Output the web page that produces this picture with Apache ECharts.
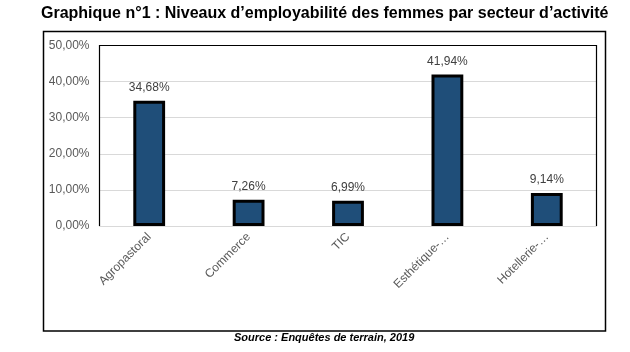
<!DOCTYPE html>
<html>
<head>
<meta charset="utf-8">
<script src="https://cdn.jsdelivr.net/npm/echarts@6/dist/echarts.min.js"></script>
<style>
  html, body { margin: 0; padding: 0; background: #fff; }
  #chart { width: 630px; height: 352px; }
</style>
</head>
<body>
<div id="chart"></div>
<script>
// données
const secteurs = ["Agropastoral", "Commerce", "TIC", "Esthétique-…", "Hotellerie-…"];
const taux = [34.68, 7.26, 6.99, 41.94, 9.14];

const titre = "Graphique n°1 : Niveaux d’employabilité des femmes par secteur d’activité";
const source = "Source : Enquêtes de terrain, 2019";

const pct = (v) => v.toFixed(2).replace(".", ",") + "%";

const chart = echarts.init(document.getElementById("chart"));

const option = {
  animation: false,
  textStyle: { fontFamily: "Liberation Sans, Arial, sans-serif" },
  title: {
    text: titre,
    left: 41,
    top: 6,
    padding: 0,
    textStyle: { fontSize: 16, fontWeight: "bold", color: "#000", fontFamily: "Liberation Sans, Arial, sans-serif" },
  },
  graphic: [
    // cadre extérieur
    {
      type: "rect",
      shape: { x: 43.5, y: 31.5, width: 562, height: 299.5 },
      style: { fill: "none", stroke: "#000", lineWidth: 1.5 },
      z: -1,
    },
    // cadre de la zone de tracé (gauche, haut, droite)
    {
      type: "polyline",
      shape: { points: [[99.5, 226], [99.5, 45.5], [596.5, 45.5], [596.5, 226]] },
      style: { fill: "none", stroke: "#000", lineWidth: 1.2 },
      z: 10,
    },
    {
      type: "text",
      left: 234,
      top: 332,
      style: {
        text: source,
        fontSize: 11,
        fontStyle: "italic",
        fontWeight: "bold",
        fill: "#000",
        fontFamily: "Liberation Sans, Arial, sans-serif",
      },
    },
  ],
  grid: { left: 99.5, right: 33.5, top: 45.5, bottom: 126 },
  xAxis: {
    type: "category",
    data: secteurs,
    axisLine: { lineStyle: { color: "#d9d9d9", width: 1 } },
    axisTick: { show: false },
    axisLabel: {
      rotate: 45,
      color: "#595959",
      fontSize: 12,
      margin: 9,
      interval: 0,
    },
  },
  yAxis: {
    type: "value",
    min: 0,
    max: 50,
    interval: 10,
    axisLine: { show: false },
    axisTick: { show: false },
    splitLine: { lineStyle: { color: "#d9d9d9", width: 1 } },
    axisLabel: {
      color: "#595959",
      fontSize: 12,
      margin: 10,
      formatter: (v) => pct(v),
    },
  },
  series: [
    {
      type: "bar",
      data: taux,
      barWidth: "32%",
      itemStyle: { color: "#1f4e79", borderColor: "#000", borderWidth: 3 },
      label: {
        show: true,
        position: "top",
        distance: 7,
        color: "#404040",
        fontSize: 12,
        formatter: (p) => pct(p.value),
      },
    },
  ],
};

chart.setOption(option);
</script>
</body>
</html>
